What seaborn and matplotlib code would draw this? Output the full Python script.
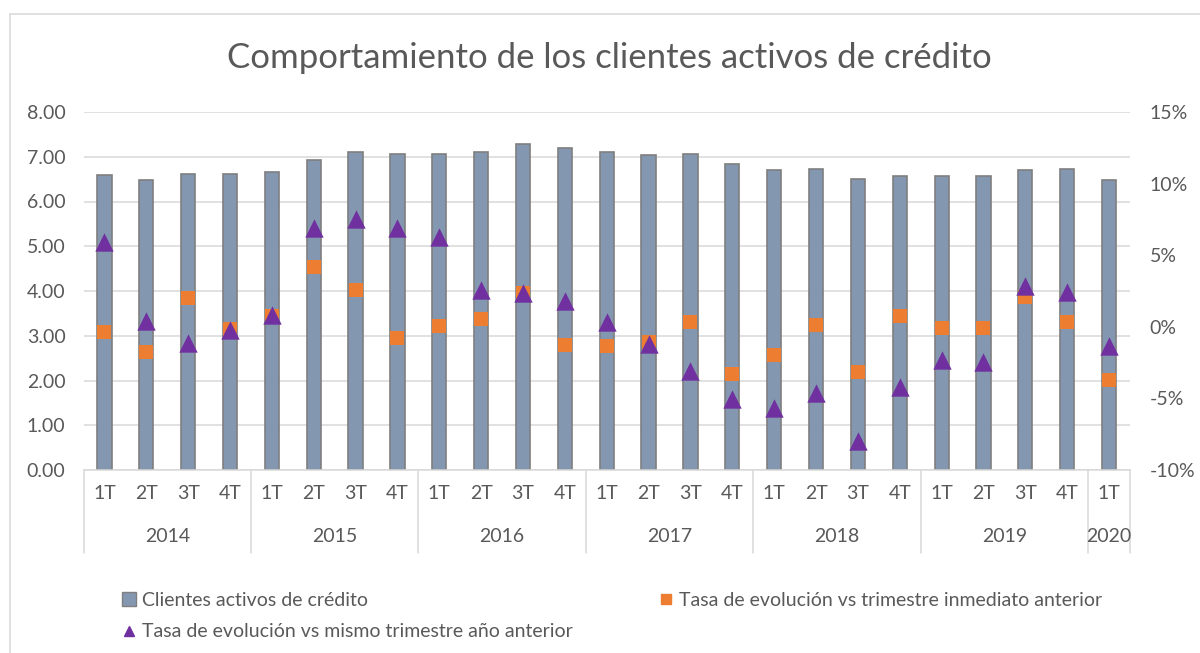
import pandas as pd
import matplotlib.pyplot as plt
import matplotlib.transforms as mtransforms
from matplotlib.patches import Patch
from matplotlib.lines import Line2D
import seaborn as sns

quarters = ['1T', '2T', '3T', '4T'] * 6 + ['1T']
years = ['2014'] * 4 + ['2015'] * 4 + ['2016'] * 4 + ['2017'] * 4 + ['2018'] * 4 + ['2019'] * 4 + ['2020']

clientes = [6.60, 6.49, 6.62, 6.61, 6.66, 6.93, 7.11, 7.07,
            7.07, 7.11, 7.29, 7.20, 7.10, 7.04, 7.07, 6.84,
            6.71, 6.72, 6.51, 6.56, 6.56, 6.56, 6.70, 6.72, 6.47]

# %, vs trimestre inmediato anterior
tasa_trim = [-0.36, -1.76, 1.98, -0.17, 0.75, 4.21, 2.57, -0.78,
             0.06, 0.57, 2.38, -1.25, -1.34, -1.06, 0.34, -3.30,
             -1.95, 0.15, -3.16, 0.75, -0.08, -0.08, 2.08, 0.34, -3.71]

# %, vs mismo trimestre año anterior
tasa_anual = [5.91, 0.40, -1.12, -0.22, 0.84, 6.92, 7.54, 6.92,
              6.29, 2.57, 2.33, 1.79, 0.36, -1.18, -3.10, -5.06,
              -5.69, -4.61, -8.00, -4.18, -2.30, -2.44, 2.87, 2.43, -1.32]

df = pd.DataFrame({
    'pos': range(len(clientes)),
    'trimestre': quarters,
    'anio': years,
    'clientes': clientes,
    'tasa_trim': tasa_trim,
    'tasa_anual': tasa_anual,
})

sns.set_style('white')
plt.rcParams['font.family'] = ['Lato', 'DejaVu Sans']

txt = '#595959'
grid = '#D9D9D9'

fig = plt.figure(figsize=(12, 6.53), dpi=100)
ax = fig.add_axes([83.5 / 1200, (653 - 470) / 653, (1130 - 83.5) / 1200, (470 - 112) / 653])

sns.barplot(data=df, x='pos', y='clientes', color='#8497B0', saturation=1,
            width=0.34, edgecolor='#7F7F7F', linewidth=1.2, ax=ax)

ax2 = ax.twinx()
sns.scatterplot(data=df, x='pos', y='tasa_trim', marker='s', s=100,
                color='#ED7D31', linewidth=0, ax=ax2, zorder=3)
sns.scatterplot(data=df, x='pos', y='tasa_anual', marker='^', s=175,
                color='#7030A0', linewidth=0, ax=ax2, zorder=4)

ax.set_xlim(-0.5, len(clientes) - 0.5)
ax.set_ylim(0, 8)
ax.set_yticks(range(9))
ax.set_yticklabels([f'{v:.2f}' for v in range(9)])
ax2.set_ylim(-10, 15)
ax2.set_yticks(range(-10, 16, 5))
ax2.set_yticklabels([f'{v}%' for v in range(-10, 16, 5)])

ax.yaxis.grid(True, color=grid, lw=1.1)
ax.set_axisbelow(True)
ax2.grid(False)

for a in (ax, ax2):
    for s in a.spines.values():
        s.set_visible(False)
    a.set_xlabel('')
    a.set_ylabel('')
ax.spines['bottom'].set_visible(True)
ax.spines['bottom'].set_color(grid)
ax.spines['bottom'].set_linewidth(1.1)

ax.set_xticks(df['pos'])
ax.set_xticklabels(quarters)
ax.tick_params(axis='x', length=0, pad=11, labelsize=14, labelcolor=txt)
ax.tick_params(axis='y', length=0, pad=13, labelsize=14, labelcolor=txt)
ax2.tick_params(axis='y', length=0, pad=14, labelsize=14, labelcolor=txt)

# year groups under the quarter labels
trans = mtransforms.blended_transform_factory(ax.transData, ax.transAxes)
year_list = list(dict.fromkeys(years))
bounds = [-0.5]
for y in year_list:
    idx = df.index[df['anio'] == y]
    ax.text(idx.to_numpy().mean(), -0.187, y, transform=trans, ha='center',
            va='center', fontsize=14, color=txt)
    bounds.append(idx.max() + 0.5)
for b in bounds:
    ax.plot([b, b], [0, -0.232], transform=trans, color=grid, lw=1.1, clip_on=False)

fig.text(0.508, 1 - 58 / 653, 'Comportamiento de los clientes activos de crédito',
         ha='center', va='center', fontsize=25, color=txt)

h_bar = Patch(facecolor='#8497B0', edgecolor='#7F7F7F', lw=1)
h_sq = Line2D([], [], ls='', marker='s', ms=7.5, color='#ED7D31')
h_tri = Line2D([], [], ls='', marker='^', ms=7.5, color='#7030A0')
fig.legend([h_bar, h_tri, h_sq],
           ['Clientes activos de crédito',
            'Tasa de evolución vs mismo trimestre año anterior',
            'Tasa de evolución vs trimestre inmediato anterior'],
           ncol=2, loc='upper left', bbox_to_anchor=(112 / 1200, 1 - 582 / 653),
           frameon=False, fontsize=14, labelcolor=txt, handlelength=0.75,
           handletextpad=0.3, columnspacing=4.4, labelspacing=0.75, borderpad=0)

# outer chart border (left and top edges visible)
fig.add_artist(Line2D([9.5 / 1200, 9.5 / 1200], [0, 1 - 13.5 / 653], color=grid, lw=1.1))
fig.add_artist(Line2D([9.5 / 1200, 1], [1 - 13.5 / 653, 1 - 13.5 / 653], color=grid, lw=1.1))

fig.savefig('out.png', dpi=100)
